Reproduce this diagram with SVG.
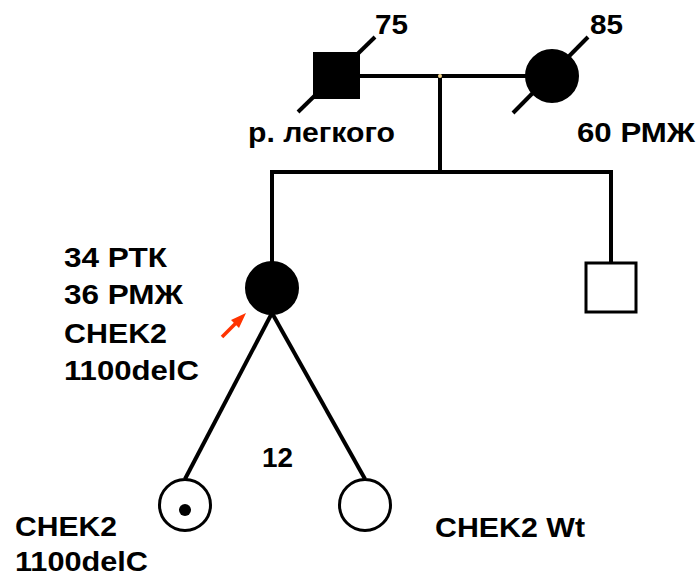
<svg xmlns="http://www.w3.org/2000/svg" width="699" height="577" viewBox="0 0 699 577">
<style>
.ln{stroke:#000;stroke-width:4;fill:none}
.thin{stroke:#000;stroke-width:3;fill:#fff}
.fill{fill:#000;stroke:#000;stroke-width:2}
.b{font-family:"Liberation Sans",Arial,sans-serif;font-weight:bold;font-size:28px;fill:#000}
</style>
<rect width="699" height="577" fill="#fff"/>
<g id="connectors">
<line class="ln" x1="360" y1="76" x2="527" y2="76"/>
<line class="ln" x1="440" y1="76" x2="440" y2="172"/>
<polyline class="ln" points="272,262 272,172 611,172 611,262"/>
<line class="ln" x1="272" y1="313" x2="185" y2="479"/>
<line class="ln" x1="272" y1="313" x2="365" y2="479"/>
<circle cx="440" cy="76" r="2" fill="#f5d58a"/>
</g>
<g id="father">
<rect class="fill" x="314" y="53" width="45" height="45"/>
<line class="ln" x1="298" y1="112" x2="375" y2="37"/>
<text class="b" x="375" y="34" textLength="33" lengthAdjust="spacingAndGlyphs">75</text>
<text class="b" x="248" y="142" textLength="147" lengthAdjust="spacingAndGlyphs">р. легкого</text>
</g>
<g id="mother">
<circle class="fill" cx="552" cy="76" r="26"/>
<line class="ln" x1="513" y1="113" x2="588" y2="37"/>
<text class="b" x="590" y="34" textLength="33" lengthAdjust="spacingAndGlyphs">85</text>
<text class="b" x="577" y="142" textLength="118" lengthAdjust="spacingAndGlyphs">60 РМЖ</text>
</g>
<g id="proband">
<circle class="fill" cx="272" cy="288" r="26"/>
<text class="b" x="64" y="267" textLength="103" lengthAdjust="spacingAndGlyphs">34 РТК</text>
<text class="b" x="64" y="304" textLength="119" lengthAdjust="spacingAndGlyphs">36 РМЖ</text>
<text class="b" x="64" y="343" textLength="103" lengthAdjust="spacingAndGlyphs">CHEK2</text>
<text class="b" x="64" y="380" textLength="135" lengthAdjust="spacingAndGlyphs">1100delC</text>
<line x1="222" y1="337" x2="238" y2="321" stroke="#ff3300" stroke-width="3.5"/>
<polygon points="246,313 231,320 239,328" fill="#ff3300"/>
</g>
<g id="brother">
<rect class="thin" x="586" y="263" width="50" height="49"/>
</g>
<g id="child1">
<circle class="thin" cx="185" cy="505" r="25.5"/>
<circle cx="185" cy="510" r="6" fill="#000"/>
<text class="b" x="15" y="536" textLength="102" lengthAdjust="spacingAndGlyphs">CHEK2</text>
<text class="b" x="15" y="571" textLength="133" lengthAdjust="spacingAndGlyphs">1100delC</text>
</g>
<g id="child2">
<circle class="thin" cx="365" cy="505" r="25.5"/>
<text class="b" x="435" y="537" textLength="150" lengthAdjust="spacingAndGlyphs">CHEK2 Wt</text>
</g>
<g id="sibship-label">
<text class="b" x="262" y="467" textLength="31" lengthAdjust="spacingAndGlyphs">12</text>
</g>
</svg>
